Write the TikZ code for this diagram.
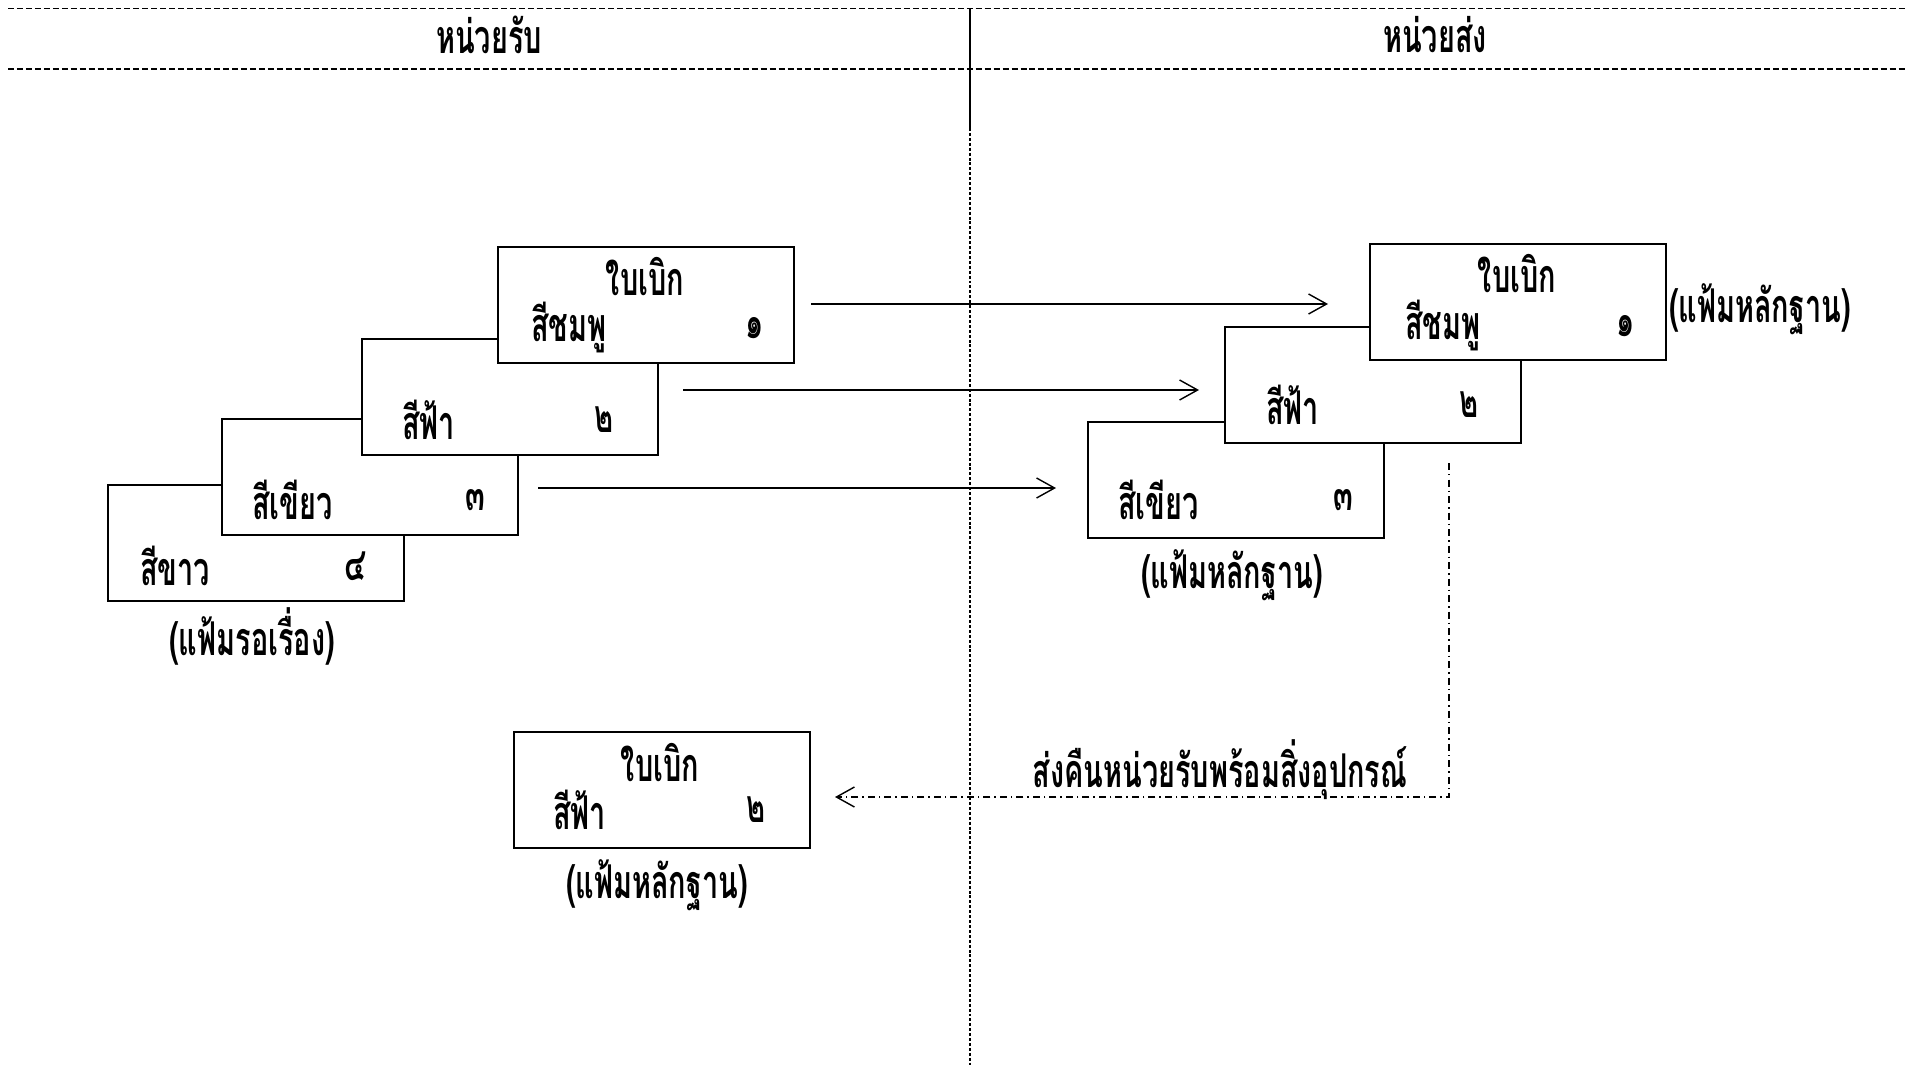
\documentclass[tikz,border=0pt]{standalone}
\usepackage{fontspec}
\newfontfamily\thaifont[Script=Thai,FakeStretch=0.62]{Loma}
\usetikzlibrary{arrows.meta}

\tikzset{
  slip/.style={draw, fill=white, line width=1.1pt, anchor=north west,
    minimum width=5.92cm, minimum height=2.32cm, inner sep=0pt},
  txt/.style={font=\thaifont\bfseries\fontsize{26.5}{30}\selectfont, inner sep=0pt},
  flow/.style={-{Straight Barb[length=3.6mm,width=4mm]}, line width=0.8pt},
  back/.style={flow, dash pattern=on 4pt off 2.3pt on 0.8pt off 2.3pt},
}

\begin{document}
\begin{tikzpicture}[x=0.02cm, y=-0.02cm]
      \useasboundingbox (0,0) rectangle (1907,1065);
      % header
      \draw [line width=1pt, dash pattern=on 3.4pt off 1.7pt] (8,8.5) -- (1907,8.5);
      \draw [line width=1pt, dash pattern=on 3.4pt off 1.7pt] (8,69) -- (1907,69);
      \draw [line width=0.9pt] (970,8) -- (970,128);
      \draw [line width=0.9pt, dash pattern=on 1.7pt off 1.1pt] (970,128) -- (970,1065);
      \node[txt] (recv) at (489,35) {หน่วยรับ};
      \node[txt] (send) at (1435,35) {หน่วยส่ง};

      % receiving unit, waiting file
      \node[slip] (L4) at (107,484) {};
      \node[txt, anchor=west] (L4c) at (140,566) {สีขาว};
      \node[txt] (L4n) at (355,566) {๔};
      \node[slip] (L3) at (221,418) {};
      \node[txt, anchor=west] (L3c) at (252,500) {สีเขียว};
      \node[txt] (L3n) at (475,500) {๓};
      \node[slip] (L2) at (361,338) {};
      \node[txt, anchor=west] (L2c) at (402,420) {สีฟ้า};
      \node[txt] (L2n) at (604,420) {๒};
      \node[slip] (L1) at (497,246) {};
      \node[txt] (L1t) at (645,277) {ใบเบิก};
      \node[txt, anchor=west] (L1c) at (531,328) {สีชมพู};
      \node[txt] (L1n) at (755,328) {๑};
      \node[txt] (Lfile) at (252,636) {(แฟ้มรอเรื่อง)};

      % sending unit
      \node[slip] (R3) at (1087,421) {};
      \node[txt, anchor=west] (R3c) at (1118,500) {สีเขียว};
      \node[txt] (R3n) at (1343,500) {๓};
      \node[slip] (R2) at (1224,326) {};
      \node[txt, anchor=west] (R2c) at (1266,405) {สีฟ้า};
      \node[txt] (R2n) at (1469,405) {๒};
      \node[slip] (R1) at (1369,243) {};
      \node[txt] (R1t) at (1517,274) {ใบเบิก};
      \node[txt, anchor=west] (R1c) at (1405,326) {สีชมพู};
      \node[txt] (R1n) at (1626,326) {๑};
      \node[txt] (Rfile1) at (1760,309) {(แฟ้มหลักฐาน)};
      \node[txt] (Rfile3) at (1232,575) {(แฟ้มหลักฐาน)};

      % returned slip
      \node[slip] (B) at (513,731) {};
      \node[txt] (Bt) at (660,763) {ใบเบิก};
      \node[txt, anchor=west] (Bc) at (553,810) {สีฟ้า};
      \node[txt] (Bn) at (756,810) {๒};
      \node[txt] (Bfile) at (657,885) {(แฟ้มหลักฐาน)};
      \node[txt] (ret) at (1220,770) {ส่งคืนหน่วยรับพร้อมสิ่งอุปกรณ์};

      \coordinate (a1) at (811,304);
      \coordinate (b1) at (1328,304);
      \coordinate (a2) at (683,390);
      \coordinate (b2) at (1199,390);
      \coordinate (a3) at (538,488);
      \coordinate (b3) at (1056,488);
      \coordinate (c1) at (1449,463);
      \coordinate (c2) at (835,797);
      \draw [flow] (a1) -- (b1);
      \draw [flow] (a2) -- (b2);
      \draw [flow] (a3) -- (b3);
      \draw [back] (c1) |- (c2);
    \end{tikzpicture}
\end{document}
